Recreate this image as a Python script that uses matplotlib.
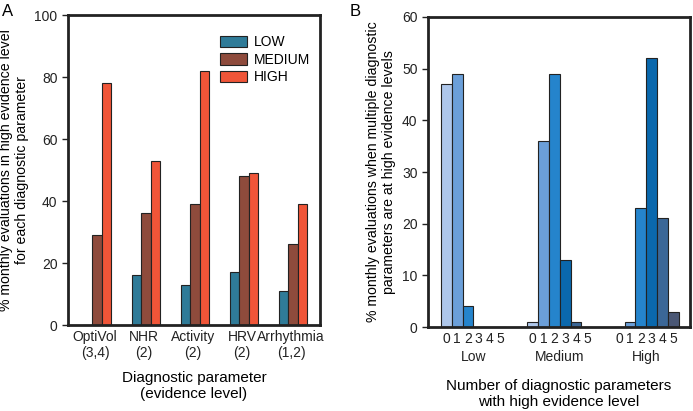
import numpy as np
import matplotlib
matplotlib.use('Agg')
import matplotlib.pyplot as plt

plt.rcParams['font.family'] = ['Liberation Sans', 'DejaVu Sans']

# panel A
params = ['OptiVol\n(3,4)', 'NHR\n(2)', 'Activity\n(2)', 'HRV\n(2)', 'Arrhythmia\n(1,2)']
low_a = [0, 16, 13, 17, 11]
medium_a = [29, 36, 39, 48, 26]
high_a = [78, 53, 82, 49, 39]

# panel B
groups_b = ['Low', 'Medium', 'High']
counts_b = ['0', '1', '2', '3', '4', '5']
values_b = [
    [47, 49, 4, 0, 0, 0],
    [1, 36, 49, 13, 1, 0],
    [0, 1, 23, 52, 21, 3],
]
colors_b = ['#aec7eb', '#6b9fd9', '#2584cc', '#0a68ad', '#3b6797', '#4a5775']


def style_axes(ax):
    for s in ax.spines.values():
        s.set_linewidth(2)
        s.set_color('#222222')
    ax.tick_params(axis='y', direction='out', length=4, width=1, labelsize=10, colors='#222222')
    ax.tick_params(axis='x', length=0, labelsize=10, colors='#222222')


def main():
    fig = plt.figure(figsize=(6.93, 4.11), dpi=100)

    # A
    ax1 = fig.add_axes([68 / 693, 1 - 325 / 411, 252 / 693, 310 / 411])
    x = np.arange(len(params))
    w = 0.19
    ax1.bar(x - w, low_a, w, color='#2f7b98', edgecolor='#222222', linewidth=0.8, label='LOW')
    ax1.bar(x, medium_a, w, color='#8e4b3c', edgecolor='#222222', linewidth=0.8, label='MEDIUM')
    ax1.bar(x + w, high_a, w, color='#f05538', edgecolor='#222222', linewidth=0.8, label='HIGH')
    ax1.set_xlim(-0.59, 4.55)
    ax1.set_ylim(0, 100)
    ax1.set_yticks(range(0, 101, 20))
    ax1.set_xticks(x - 0.04)
    ax1.set_xticklabels(params)
    ax1.set_ylabel('% monthly evaluations in high evidence level\nfor each diagnostic parameter', fontsize=10.2, labelpad=4)
    ax1.set_xlabel('Diagnostic parameter\n(evidence level)', fontsize=11, labelpad=8)
    style_axes(ax1)
    ax1.legend(loc='upper right', bbox_to_anchor=(1.01, 0.975), frameon=False, fontsize=10,
               handlelength=1.9, handleheight=0.9, labelspacing=0.25, handletextpad=0.5)
    fig.text(0.003, 0.99, 'A', fontsize=12, va='top')

    # B
    ax2 = fig.add_axes([428 / 693, 1 - 327 / 411, 262 / 693, 310 / 411])
    ticks = []
    labels = []
    for g, vals in enumerate(values_b):
        pos = g * 8 + np.arange(len(counts_b))
        ax2.bar(pos, vals, 1.0, color=colors_b, edgecolor='#222222', linewidth=0.8)
        ticks += list(pos)
        labels += counts_b
        ax2.text(g * 8 + 2.5, -0.075, groups_b[g], transform=ax2.get_xaxis_transform(),
                 ha='center', va='top', fontsize=10, color='#222222')
    ax2.set_xlim(-1.7, 22.55)
    ax2.set_ylim(0, 60)
    ax2.set_yticks(range(0, 61, 10))
    ax2.set_xticks(ticks)
    ax2.set_xticklabels(labels)
    ax2.set_ylabel('% monthly evaluations when multiple diagnostic\nparameters are at high evidence levels', fontsize=10.2, labelpad=4)
    ax2.set_xlabel('Number of diagnostic parameters\nwith high evidence level', fontsize=11, labelpad=24)
    style_axes(ax2)
    fig.text(0.505, 0.99, 'B', fontsize=12, va='top')

    fig.savefig('out.png', dpi=100)


if __name__ == '__main__':
    main()
